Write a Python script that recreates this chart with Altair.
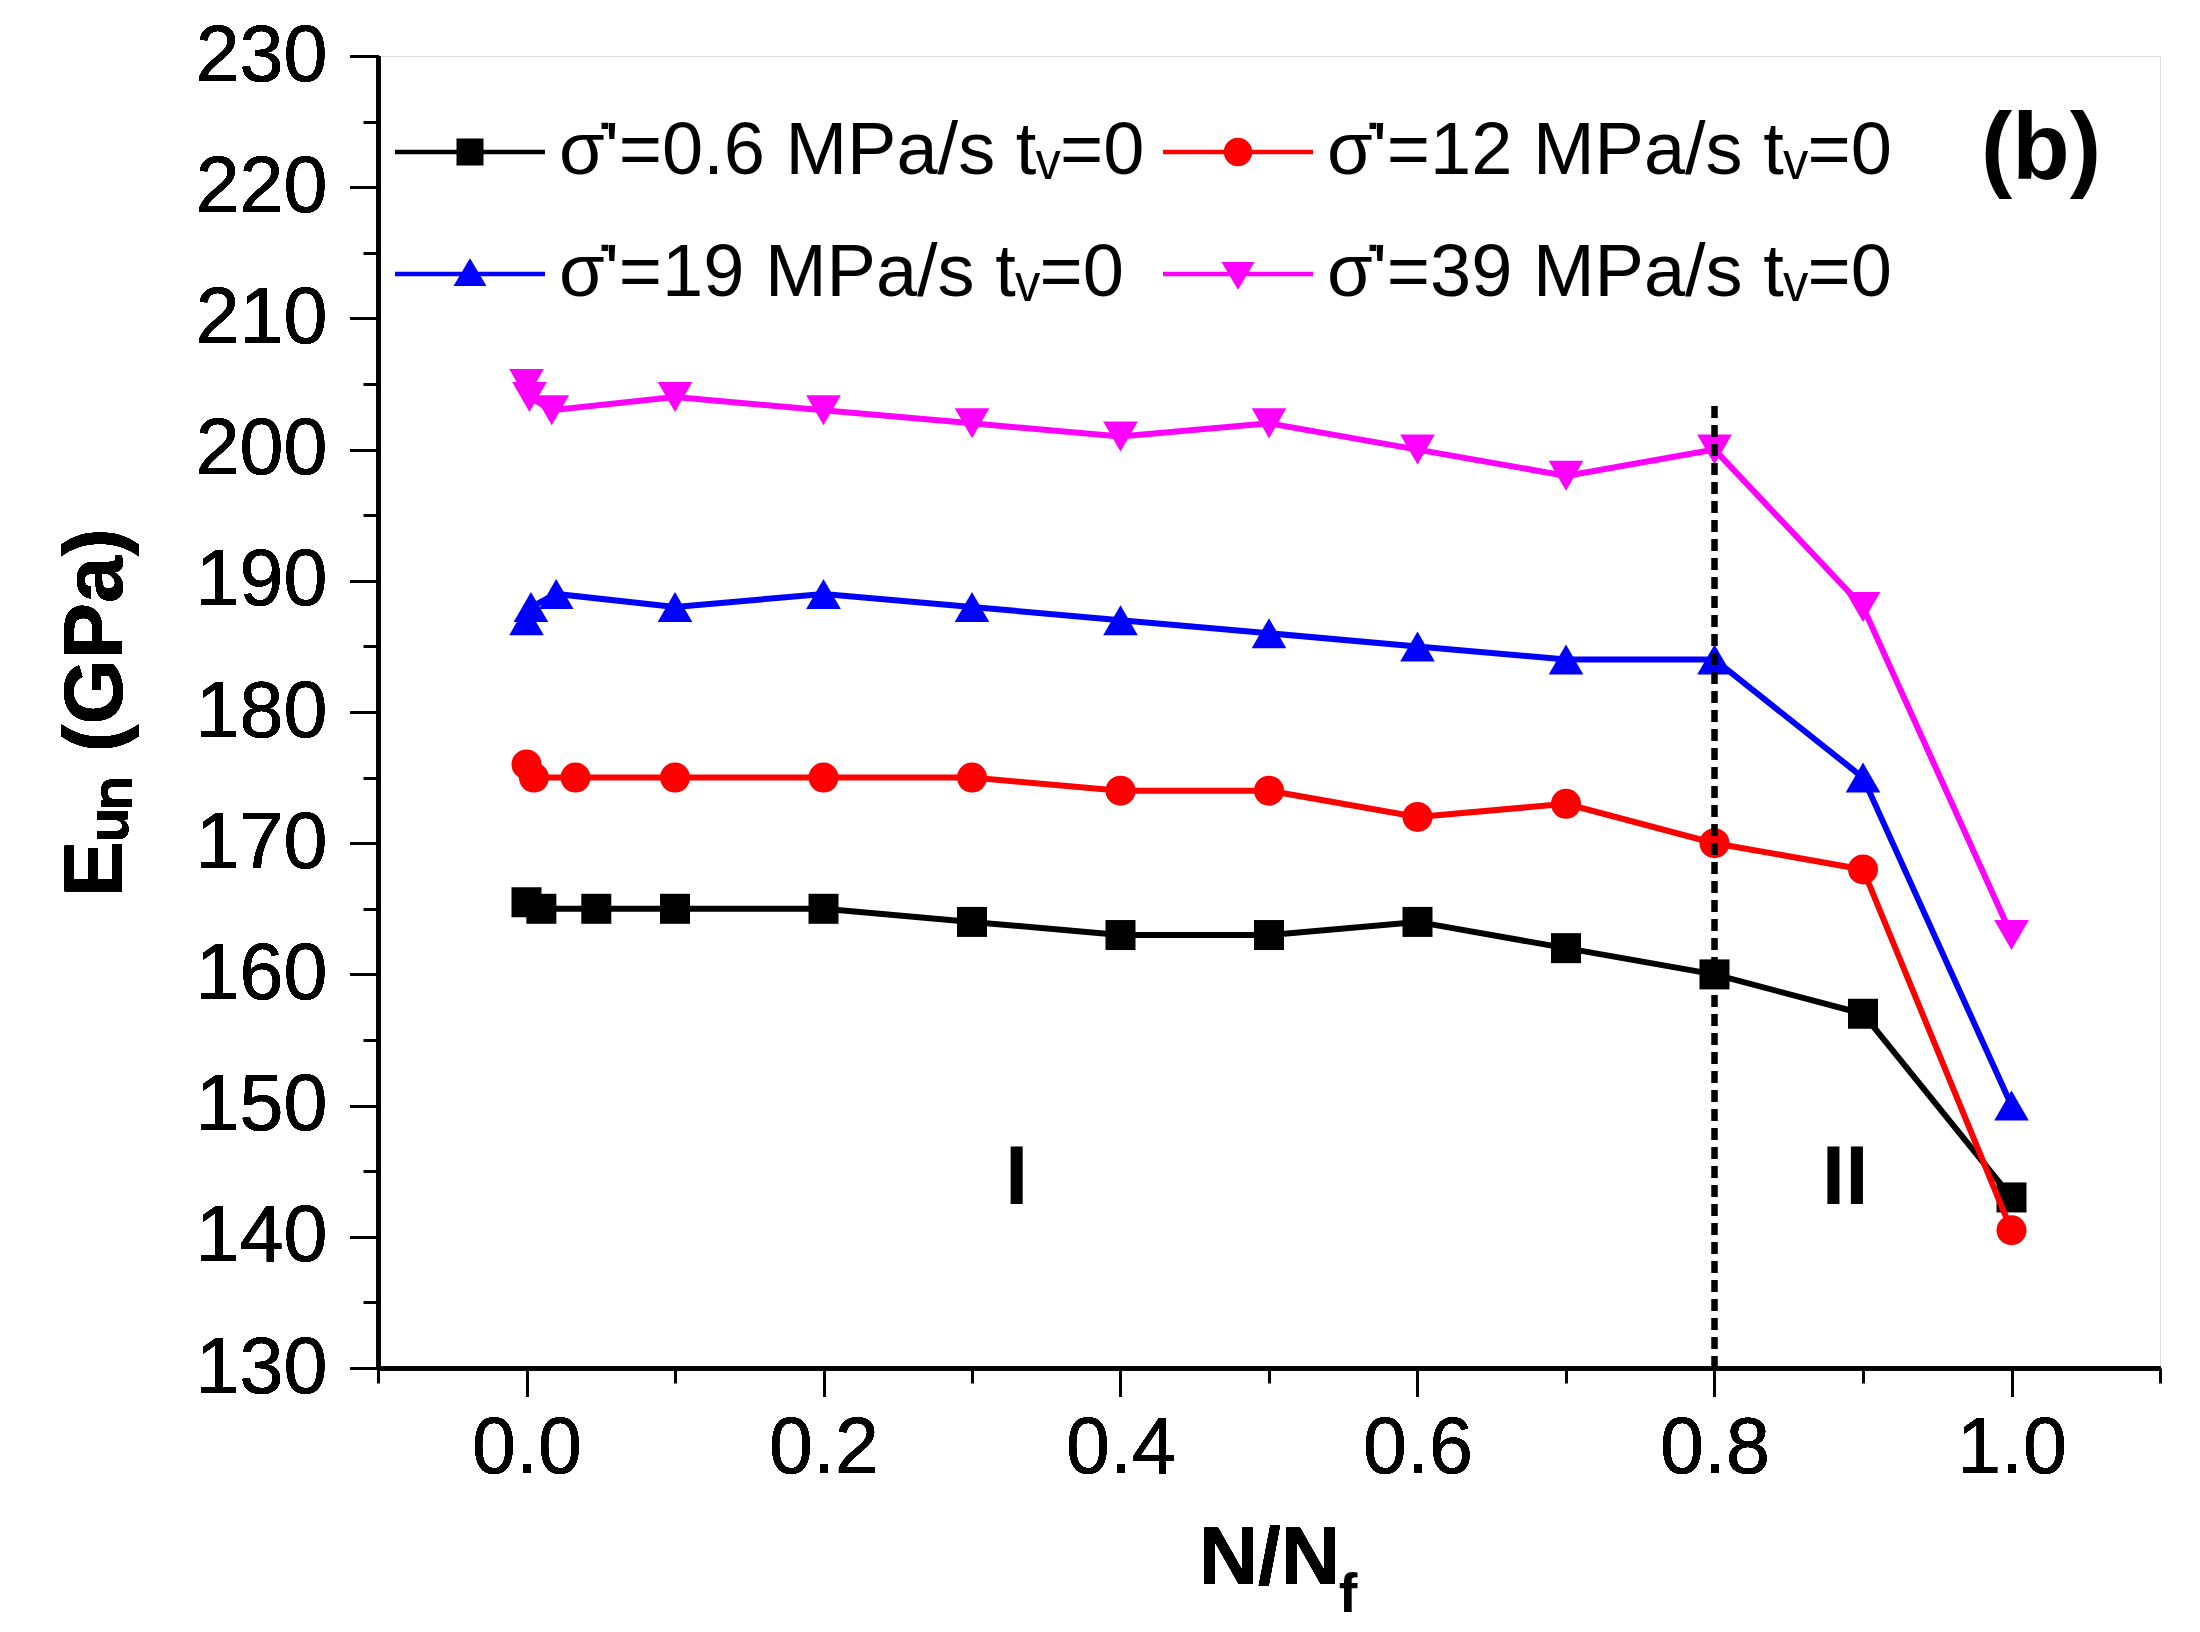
import altair as alt
import pandas as pd

# series labels (legend order)
series = [
    "σ\u0307'=0.6 MPa/s t\u1d65=0",
    "σ\u0307'=12 MPa/s t\u1d65=0",
    "σ\u0307'=19 MPa/s t\u1d65=0",
    "σ\u0307'=39 MPa/s t\u1d65=0",
]
colors = ["#000000", "#FF0000", "#0000FF", "#FF00FF"]
marker_shapes = ["square", "circle", "triangle-up", "triangle-down"]
marker_sizes = [900, 900, 1200, 1200]

# N/Nf and E_un (GPa)
x_black = [0.0, 0.01, 0.047, 0.1, 0.2, 0.3, 0.4, 0.5, 0.6, 0.7, 0.8, 0.9, 1.0]
y_black = [165.5, 165, 165, 165, 165, 164, 163, 163, 164, 162, 160, 157, 143]

x_red = [0.0, 0.005, 0.033, 0.1, 0.2, 0.3, 0.4, 0.5, 0.6, 0.7, 0.8, 0.9, 1.0]
y_red = [176, 175, 175, 175, 175, 175, 174, 174, 172, 173, 170, 168, 140.5]

x_blue = [0.0, 0.003, 0.02, 0.1, 0.2, 0.3, 0.4, 0.5, 0.6, 0.7, 0.8, 0.9, 1.0]
y_blue = [187, 188, 189, 188, 189, 188, 187, 186, 185, 184, 184, 175, 150]

x_mag = [0.0, 0.002, 0.017, 0.1, 0.2, 0.3, 0.4, 0.5, 0.6, 0.7, 0.8, 0.9, 1.0]
y_mag = [205, 204, 203, 204, 203, 202, 201, 202, 200, 198, 200, 188, 163]

# annotations
stage_labels = ["I", "II"]
stage_x = [0.33, 0.888]
stage_y = [144.4, 144.4]

boundary_x = [0.8]
boundary_y = [130]
boundary_y2 = [203.5]

FONT = "Liberation Sans"
W, H = 1782, 1312

frames = []
for name, xs, ys in [(series[0], x_black, y_black), (series[1], x_red, y_red),
                     (series[2], x_blue, y_blue), (series[3], x_mag, y_mag)]:
    frames.append(pd.DataFrame({"series": name, "x": xs, "y": ys}))
df = pd.concat(frames, ignore_index=True)

x_scale = alt.Scale(domain=[-0.1, 1.1], nice=False, zero=False)
y_scale = alt.Scale(domain=[130, 230], nice=False, zero=False)
color_scale = alt.Scale(domain=series, range=colors)

x_axis = alt.Axis(values=[0.0, 0.2, 0.4, 0.6, 0.8, 1.0], format=".1f", grid=False,
                  tickSize=28, tickWidth=3, tickColor="black", domainWidth=3.5,
                  domainColor="black", labelFontSize=79, labelFont=FONT,
                  labelColor="black", labelPadding=14, title="N/N", titleFont=FONT,
                  titleFontSize=82, titleFontWeight="bold", titleColor="black",
                  titlePadding=30, orient="bottom")
y_axis = alt.Axis(values=list(range(130, 231, 10)), format="d", grid=False,
                  tickSize=28, tickWidth=3, tickColor="black", domainWidth=3.5,
                  domainColor="black", labelFontSize=79, labelFont=FONT,
                  labelColor="black", labelPadding=23, title="E\u1d64\u2099 (GPa)",
                  titleFont=FONT, titleFontSize=84, titleFontWeight="bold",
                  titleColor="black", titlePadding=56, orient="left")

X = alt.X("x:Q", scale=x_scale, axis=x_axis)
Y = alt.Y("y:Q", scale=y_scale, axis=y_axis)

base = alt.Chart(df)

series_layers = []
for name, col, shp, sz in zip(series, colors, marker_shapes, marker_sizes):
    part = base.transform_filter(alt.datum.series == name)
    series_layers.append(part.mark_line(color=col, strokeWidth=6).encode(x=X, y=Y))
    series_layers.append(
        part.mark_point(shape=shp, filled=True, size=sz, opacity=1, color=col).encode(x=X, y=Y)
    )

# legend symbols: line segment with the marker on it
seg = "M-1,-0.03L1,-0.03L1,0.03L-1,0.03Z"
legend_paths = [
    seg + " M-0.18,-0.18L0.18,-0.18L0.18,0.18L-0.18,0.18Z",
    seg + " M-0.19,0A0.19,0.19 0 1,1 0.19,0A0.19,0.19 0 1,1 -0.19,0Z",
    seg + " M0,-0.21L0.22,0.16L-0.22,0.16Z",
    seg + " M0,0.21L-0.22,-0.16L0.22,-0.16Z",
]
leg = alt.Legend(orient="none", direction="horizontal", legendX=17, legendY=21,
                 columns=2, padding=0, symbolSize=22500, symbolStrokeWidth=0,
                 labelFont=FONT, labelFontSize=74, labelColor="black",
                 labelOffset=14, columnPadding=18, rowPadding=10, labelLimit=1000,
                 symbolOpacity=1)
legend_layer = base.mark_point(filled=True, opacity=0).encode(
    x=X, y=Y,
    color=alt.Color("series:N", scale=color_scale, legend=leg, title=None),
    shape=alt.Shape("series:N", scale=alt.Scale(domain=series, range=legend_paths),
                    legend=leg, title=None),
)

bdf = pd.DataFrame({"x": boundary_x, "y": boundary_y, "y2": boundary_y2})
boundary = alt.Chart(bdf).mark_rule(color="black", strokeWidth=6.5, strokeDash=[12, 7]).encode(
    x=X, y=Y, y2="y2:Q"
)

# minor ticks
minor = alt.Chart(bdf).mark_point(opacity=0).encode(
    x=alt.X("x:Q", scale=x_scale,
            axis=alt.Axis(values=[-0.1, 0.1, 0.3, 0.5, 0.7, 0.9, 1.1], labels=False,
                          tickSize=15, tickWidth=3, tickColor="black", domain=False,
                          grid=False, title=None, orient="bottom")),
    y=alt.Y("y:Q", scale=y_scale,
            axis=alt.Axis(values=list(range(135, 230, 10)), labels=False,
                          tickSize=15, tickWidth=3, tickColor="black", domain=False,
                          grid=False, title=None, orient="left")),
)

sdf = pd.DataFrame({"t": stage_labels, "x": stage_x, "y": stage_y})
stages = alt.Chart(sdf).mark_text(font=FONT, fontSize=84, fontWeight="bold",
                                  color="black", baseline="middle").encode(
    x=X, y=Y, text="t:N"
)

panel = alt.Chart(pd.DataFrame({"t": ["(b)"]})).mark_text(
    font=FONT, fontSize=94, fontWeight="bold", color="black", baseline="middle"
).encode(x=alt.value(1663), y=alt.value(95), text="t:N")

sub_f = alt.Chart(pd.DataFrame({"t": ["f"]})).mark_text(
    font=FONT, fontSize=56, fontWeight="bold", color="black", baseline="alphabetic"
).encode(x=alt.value(970), y=alt.value(1556), text="t:N")

chart = alt.layer(
    minor, *series_layers, legend_layer, boundary, stages, panel, sub_f
).resolve_axis(x="independent", y="independent").properties(
    width=W, height=H,
    autosize=alt.AutoSizeParams(type="none"),
    padding={"left": 370, "top": 48, "right": 30, "bottom": 262},
).configure_view(stroke="black", strokeWidth=3.5).configure(background="white")

chart.save("out.html", embed_options={"renderer": "svg", "actions": False})
